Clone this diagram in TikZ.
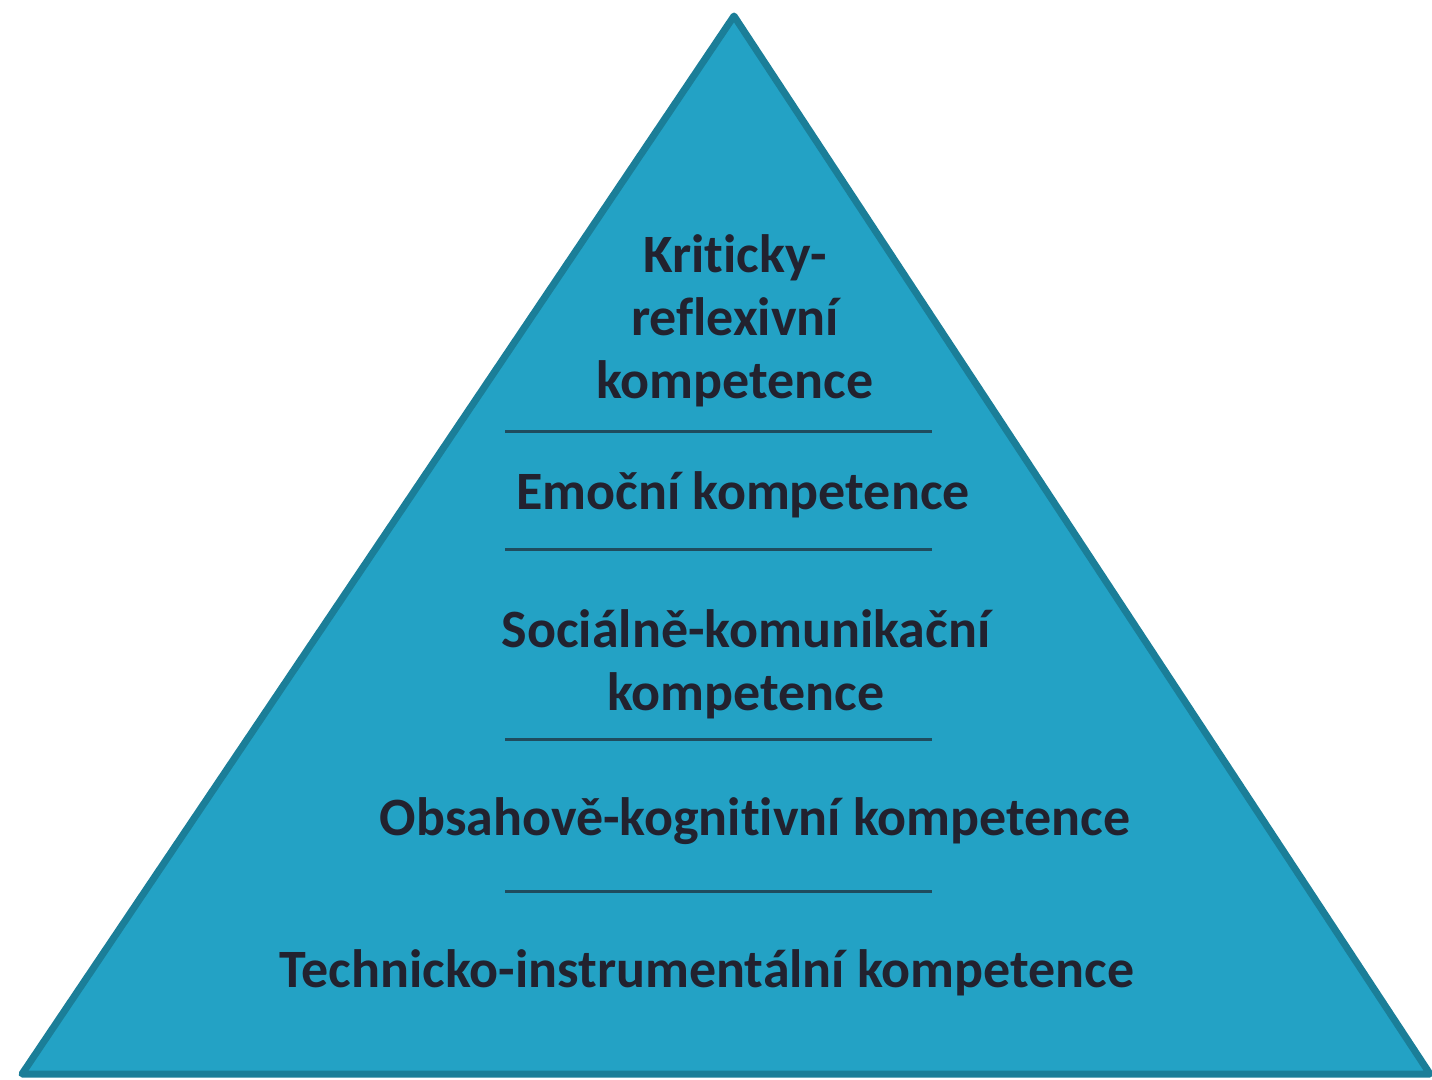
\documentclass[tikz,border=0pt]{standalone}
\usepackage{fontspec}
\setmainfont{Carlito}[Ligatures=NoCommon]
\definecolor{pyrfill}{HTML}{23A2C5}
\definecolor{pyredge}{HTML}{1B7E98}
\definecolor{sepline}{HTML}{1F4C5E}
\definecolor{txt}{HTML}{22222F}
\tikzset{
  lvl/.style={font=\bfseries\fontsize{27}{31.5}\selectfont, text=txt, align=center, inner sep=0pt},
  sep/.style={draw=sepline, line width=1.5pt},
  pyr/.style={fill=pyrfill, draw=pyredge, line width=3.5pt, line join=round}
}
\begin{document}
\begin{tikzpicture}[x=0.5pt,y=-0.5pt]
\useasboundingbox (0,0) rectangle (1432,1080);
\coordinate (apex) at (734,16);
\coordinate (bl) at (22,1074);
\coordinate (br) at (1430,1074);
\draw[pyr] (apex) -- (br) -- (bl) -- cycle;

\node[lvl] (krit) at (735,321) {Kriticky-\\reflexivní\\kompetence};
\node[lvl] (emo) at (743,495) {Emoční kompetence};
\node[lvl] (soc) at (746,664) {Sociálně-komunikační\\kompetence};
\node[lvl] (obs) at (755,821) {Obsahově-kognitivní kompetence};
\node[lvl] (tech) at (707,973) {Technicko-instrumentální kompetence};

\foreach \n/\y in {1/432,2/550,3/740,4/892}{
  \coordinate (s\n a) at (505,\y);
  \coordinate (s\n b) at (932,\y);
  \draw[sep] (s\n a) -- (s\n b);
}
\end{tikzpicture}
\end{document}
